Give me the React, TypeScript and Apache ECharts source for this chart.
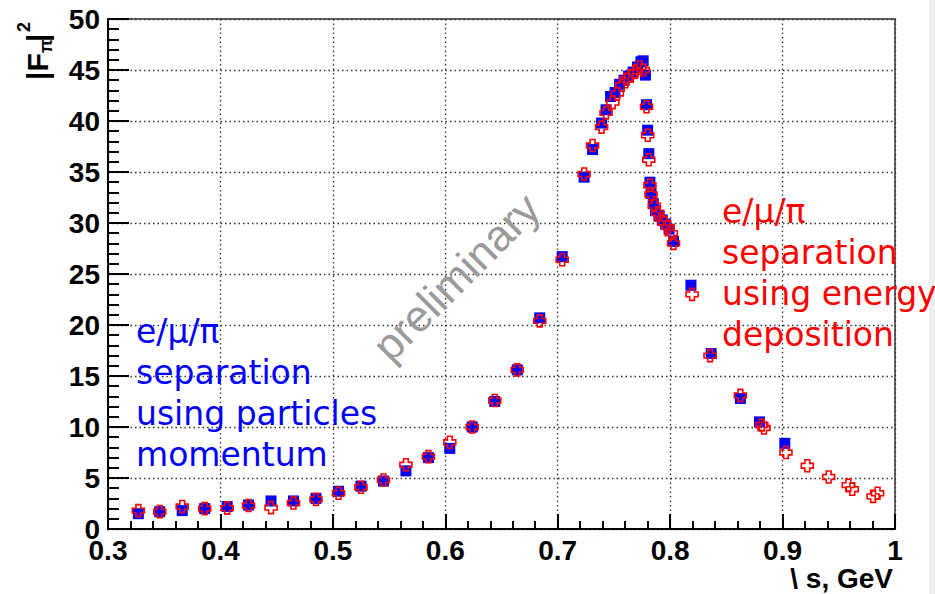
import React, { useEffect, useRef } from "react";
import * as echarts from "echarts";

// ---- data ----
const blueX = [
  0.327, 0.346, 0.366, 0.386, 0.406, 0.425, 0.445, 0.465, 0.485, 0.505,
  0.525, 0.545, 0.565, 0.585, 0.604, 0.624, 0.644, 0.664, 0.684, 0.704,
  0.7235, 0.731, 0.739, 0.743, 0.747, 0.751, 0.755, 0.759, 0.763, 0.767,
  0.771, 0.774, 0.776, 0.778, 0.779, 0.78, 0.781, 0.782, 0.783, 0.785,
  0.787, 0.79, 0.793, 0.796, 0.799, 0.803, 0.8185, 0.8365, 0.8625, 0.8795,
  0.902,
];
const blueY = [
  1.5, 1.7, 1.8, 2.0, 2.2, 2.35, 2.75, 2.75, 3.0, 3.7,
  4.2, 4.7, 5.7, 7.0, 7.9, 10.0, 12.5, 15.6, 20.7, 26.7,
  34.5, 37.2, 39.8, 41.1, 42.4, 42.8, 43.6, 44.0, 44.4, 44.8,
  45.3, 45.8, 45.9, 44.5, 41.6, 39.1, 36.8, 34.0, 32.9, 31.9,
  31.2, 30.7, 30.3, 29.9, 29.4, 28.2, 23.9, 17.2, 12.8, 10.5,
  8.4,
];
const redX = [
  0.327, 0.346, 0.366, 0.386, 0.406, 0.425, 0.445, 0.465, 0.485, 0.505,
  0.525, 0.545, 0.565, 0.585, 0.604, 0.624, 0.644, 0.664, 0.684, 0.704,
  0.7235, 0.731, 0.739, 0.743, 0.749, 0.753, 0.757, 0.761, 0.765, 0.769,
  0.773, 0.776, 0.779, 0.78, 0.781, 0.782, 0.783, 0.786, 0.789, 0.792,
  0.795, 0.798, 0.801, 0.803, 0.8195, 0.8355, 0.8625, 0.8815, 0.8835, 0.903,
  0.922, 0.941, 0.9585, 0.962, 0.9805, 0.9845,
];
const redY = [
  1.8, 1.7, 2.2, 2.0, 2.05, 2.3, 2.1, 2.55, 2.9, 3.5,
  4.1, 4.8, 6.3, 7.1, 8.5, 10.0, 12.6, 15.6, 20.4, 26.4,
  34.8, 37.6, 39.4, 40.8, 41.8, 42.7, 43.5, 44.1, 44.4, 44.8,
  45.3, 45.0, 41.4, 38.6, 36.2, 33.7, 32.8, 31.7, 31.0, 30.4,
  30.0, 29.6, 29.0, 28.0, 23.0, 17.0, 13.1, 10.2, 9.9, 7.5,
  6.2, 5.1, 4.3, 3.9, 3.2, 3.5,
];

const xRange = [0.3, 1.0];
const xStep = 0.1;
const yRange = [0, 50];
const yStep = 5;

const xTitle = "\\ s, GeV";
const blueNote = ["e/μ/π", "separation", "using particles", "momentum"];
const redNote = ["e/μ/π", "separation", "using energy", "deposition"];
const watermark = "preliminary";

const crossPath = "path://M3,0H7V3H10V7H7V10H3V7H0V3H3Z";

export default function App() {
  const ref = useRef<HTMLDivElement>(null);

  useEffect(() => {
    document.body.style.margin = "0";
    if (!ref.current) return;
    const chart = echarts.init(ref.current, null, { renderer: "svg" });

    const tickFont = {
      color: "#000",
      fontSize: 28,
      fontWeight: "bold" as const,
      fontFamily: "Liberation Sans, Arial, sans-serif",
    };
    const gridLine = { show: true, lineStyle: { color: "#333", width: 1.3, type: [1.5, 3] } };

    const noteFont = "33px 'DejaVu Sans', Verdana, sans-serif";
    const noteLines = (lines: string[], x: number, y0: number, color: string) =>
      lines.map((t, i) => ({
        type: "text",
        x,
        y: y0 + i * 41,
        z: 20,
        style: { text: t, font: noteFont, fill: color, align: "left", verticalAlign: "middle" },
      }));

    const option: any = {
      animation: false,
      backgroundColor: "#fff",
      grid: {
        left: 108,
        right: 40,
        top: 19,
        bottom: 65,
        show: true,
        borderColor: "#333",
        borderWidth: 1.5,
        backgroundColor: "transparent",
      },
      xAxis: {
        type: "value",
        min: xRange[0],
        max: xRange[1],
        interval: xStep,
        axisLine: { show: true, onZero: false, lineStyle: { color: "#000", width: 2 } },
        axisTick: { show: true, inside: true, length: 15, lineStyle: { color: "#000", width: 2 } },
        minorTick: { show: true, splitNumber: 5, length: 8, lineStyle: { color: "#000", width: 2 } },
        splitLine: gridLine,
        axisLabel: {
          ...tickFont,
          margin: 7,
          formatter: (v: number) => String(Number(v.toFixed(1))),
        },
      },
      yAxis: {
        type: "value",
        min: yRange[0],
        max: yRange[1],
        interval: yStep,
        axisLine: { show: true, onZero: false, lineStyle: { color: "#000", width: 2 } },
        axisTick: { show: true, inside: true, length: 21, lineStyle: { color: "#000", width: 2 } },
        minorTick: { show: true, splitNumber: 5, length: 11, lineStyle: { color: "#000", width: 2 } },
        splitLine: gridLine,
        axisLabel: { ...tickFont, margin: 8 },
      },
      series: [
        {
          type: "scatter",
          data: blueX.map((x, i) => [x, blueY[i]]),
          symbol: "rect",
          symbolSize: 11,
          itemStyle: { color: "#0000ff", opacity: 1 },
          emphasis: { disabled: true },
          z: 3,
        },
        {
          type: "scatter",
          data: redX.map((x, i) => [x, redY[i]]),
          symbol: crossPath,
          symbolSize: 12,
          itemStyle: { color: "rgba(0,0,0,0)", borderColor: "#ff0000", borderWidth: 1.6, opacity: 1 },
          emphasis: { disabled: true },
          z: 4,
        },
      ],
      graphic: [
        {
          type: "rect",
          shape: { x: 929, y: 0, width: 6, height: 594 },
          style: { fill: "#eeeeee" },
          z: 1,
        },
        {
          type: "text",
          x: 456,
          y: 277,
          rotation: Math.PI / 4,
          z: 15,
          style: {
            text: watermark,
            font: "44px 'Liberation Sans', Arial, sans-serif",
            fill: "#9a9a9a",
            align: "center",
            verticalAlign: "middle",
          },
        },
        ...noteLines(blueNote, 136, 331, "#0000ff"),
        ...noteLines(redNote, 722, 211, "#ff0000"),
        {
          type: "text",
          x: 893,
          y: 578,
          z: 20,
          style: {
            text: xTitle,
            font: "bold 28px 'Liberation Sans', Arial, sans-serif",
            fill: "#000",
            align: "right",
            verticalAlign: "middle",
          },
        },
        {
          type: "group",
          x: 37,
          y: 80,
          rotation: Math.PI / 2,
          z: 20,
          children: [
            {
              type: "text",
              x: 0,
              y: 0,
              style: {
                text: "|F",
                font: "bold 30px 'Liberation Sans', Arial, sans-serif",
                fill: "#000",
                align: "left",
                verticalAlign: "middle",
              },
            },
            {
              type: "text",
              x: 27,
              y: 9,
              style: {
                text: "π",
                font: "bold 18px 'Liberation Sans', Arial, sans-serif",
                fill: "#000",
                align: "left",
                verticalAlign: "middle",
              },
            },
            {
              type: "text",
              x: 38,
              y: 0,
              style: {
                text: "|",
                font: "bold 30px 'Liberation Sans', Arial, sans-serif",
                fill: "#000",
                align: "left",
                verticalAlign: "middle",
              },
            },
            {
              type: "text",
              x: 48,
              y: -13,
              style: {
                text: "2",
                font: "bold 18px 'Liberation Sans', Arial, sans-serif",
                fill: "#000",
                align: "left",
                verticalAlign: "middle",
              },
            },
          ],
        },
      ],
    };

    chart.setOption(option);
    return () => chart.dispose();
  }, []);

  return <div ref={ref} style={{ width: 935, height: 594 }} />;
}
